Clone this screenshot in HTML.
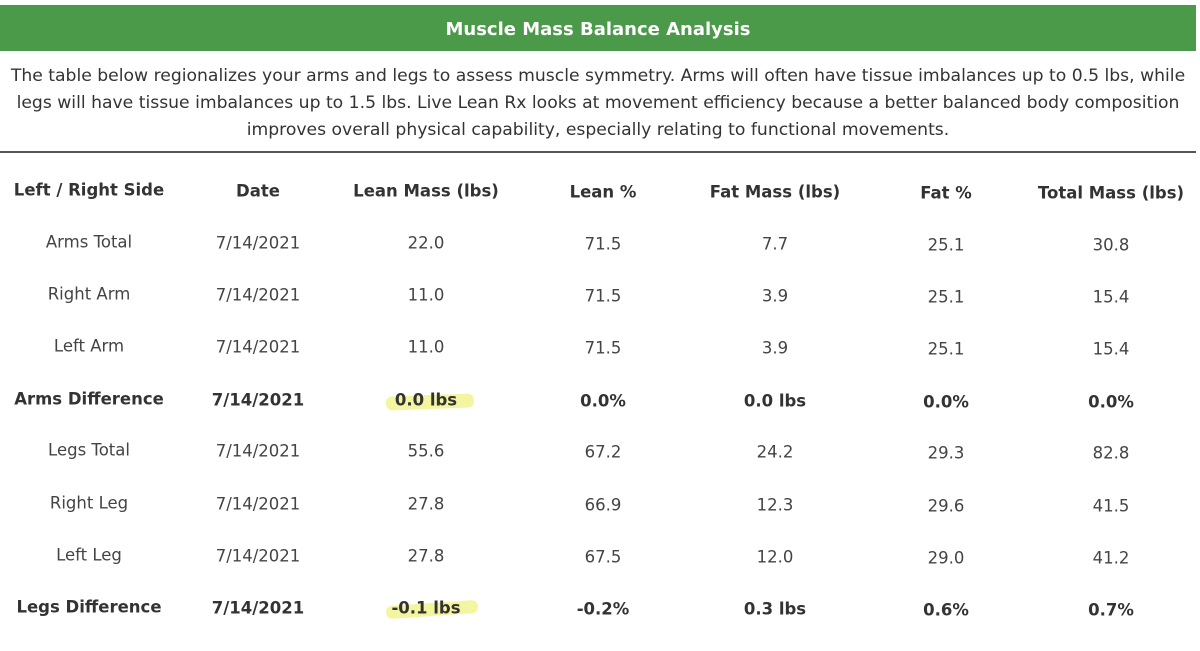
<!DOCTYPE html>
<html><head><meta charset="utf-8"><style>
html,body{margin:0;padding:0;background:#fff;}
body{width:1200px;height:651px;position:relative;overflow:hidden;font-family:"DejaVu Sans","Liberation Sans",sans-serif;color:#3a3a3a;}
.band{position:absolute;left:0;top:5px;width:1196px;height:46px;background:#4b9a49;}
.title{position:absolute;left:0;width:1196px;top:19px;text-align:center;color:#fff;font-weight:bold;font-size:18px;}
.p{position:absolute;left:0;width:1196px;text-align:center;font-size:17.2px;color:#333;white-space:nowrap;}
.rule{position:absolute;left:0;top:151px;width:1196px;height:2px;background:#555;}
.c{position:absolute;transform:translate(-50%,-50%);white-space:nowrap;font-size:16.5px;color:#444;}
.b{font-weight:bold;color:#333;}
.hl{position:absolute;background:#f1f38a;opacity:.8;border-radius:6px;}
</style></head><body>
<div class="band"></div>
<div class="title">Muscle Mass Balance Analysis</div>
<div class="p" style="top:66px">The table below regionalizes your arms and legs to assess muscle symmetry. Arms will often have tissue imbalances up to 0.5 lbs, while</div>
<div class="p" style="top:93px">legs will have tissue imbalances up to 1.5 lbs. Live Lean Rx looks at movement efficiency because a better balanced body composition</div>
<div class="p" style="top:120px">improves overall physical capability, especially relating to functional movements.</div>
<div class="rule"></div>
<div class="hl" style="left:386px;top:395px;width:88px;height:14px;transform:rotate(-2deg)"></div>
<div class="hl" style="left:386px;top:603px;width:92px;height:13px;transform:rotate(-4deg)"></div>
<div id="t"></div>
<script>
var cols=[89,258,426,603,775,946,1111];
var rows=[
[190,1,["Left / Right Side","Date","Lean Mass (lbs)","Lean %","Fat Mass (lbs)","Fat %","Total Mass (lbs)"]],
[242,0,["Arms Total","7/14/2021","22.0","71.5","7.7","25.1","30.8"]],
[294,0,["Right Arm","7/14/2021","11.0","71.5","3.9","25.1","15.4"]],
[346,0,["Left Arm","7/14/2021","11.0","71.5","3.9","25.1","15.4"]],
[399,1,["Arms Difference","7/14/2021","0.0 lbs","0.0%","0.0 lbs","0.0%","0.0%"]],
[450,0,["Legs Total","7/14/2021","55.6","67.2","24.2","29.3","82.8"]],
[503,0,["Right Leg","7/14/2021","27.8","66.9","12.3","29.6","41.5"]],
[555,0,["Left Leg","7/14/2021","27.8","67.5","12.0","29.0","41.2"]],
[607,1,["Legs Difference","7/14/2021","-0.1 lbs","-0.2%","0.3 lbs","0.6%","0.7%"]]];
var h="";
rows.forEach(function(r){r[2].forEach(function(s,i){var y=r[0]+i*0.5;
h+='<div class="c'+(r[1]?' b':'')+'" style="left:'+cols[i]+'px;top:'+y+'px">'+s+'</div>';});});
document.getElementById("t").innerHTML=h;
</script>
</body></html>
